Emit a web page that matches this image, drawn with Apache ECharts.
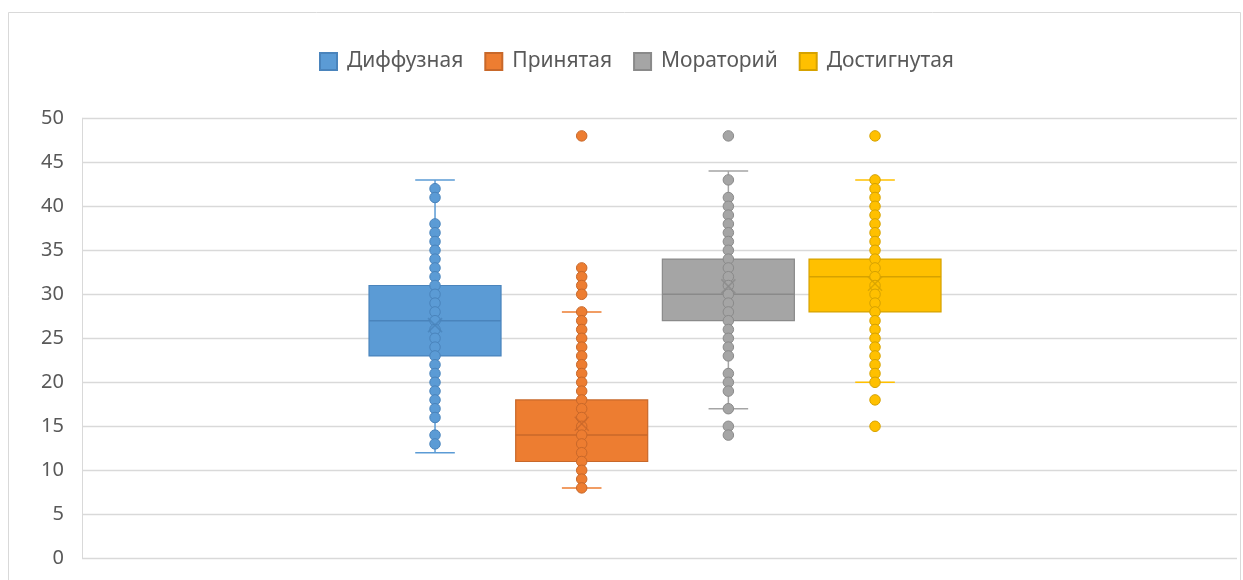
<!DOCTYPE html>
<html>
<head>
<meta charset="utf-8">
<script src="https://cdn.jsdelivr.net/npm/echarts@6/dist/echarts.min.js"></script>
<style>
html,body{margin:0;padding:0;background:#fff;}
#c{width:1243px;height:580px;}
</style>
</head>
<body>
<div id="c"></div>
<script>
// ---- data ----
const categories = ['Диффузная', 'Принятая', 'Мораторий', 'Достигнутая'];
const boxMin    = [12, 8, 17, 20];
const boxQ1     = [23, 11, 27, 28];
const boxMedian = [27, 14, 30, 32];
const boxQ3     = [31, 18, 34, 34];
const boxMax    = [43, 28, 44, 43];
const boxMean   = [26.5, 15.3, 30.9, 31.2];

const diffusePoints = [42, 41, 38, 37, 36, 35, 34, 33, 32, 31, 30, 29, 28, 27, 26, 25, 24, 23, 22, 21, 20, 19, 18, 17, 16, 14, 13];
const acceptedPoints = [48, 33, 32, 31, 30, 28, 27, 26, 25, 24, 23, 22, 21, 20, 19, 18, 17, 16, 15, 14, 13, 12, 11, 10, 9, 8];
const moratoriumPoints = [48, 43, 41, 40, 39, 38, 37, 36, 35, 34, 33, 32, 31, 30, 29, 28, 27, 26, 25, 24, 23, 21, 20, 19, 17, 15, 14];
const achievedPoints = [48, 43, 42, 41, 40, 39, 38, 37, 36, 35, 34, 33, 32, 31, 30, 29, 28, 27, 26, 25, 24, 23, 22, 21, 20, 18, 15];
const pointSets = [diffusePoints, acceptedPoints, moratoriumPoints, achievedPoints];

const yTicks = {min: 0, max: 50, interval: 5};

// ---- styles ----
const fillColors = ['#5B9BD5', '#ED7D31', '#A5A5A5', '#FFC000'];
const darkColors = ['#4A84BC', '#C8682A', '#8A8A8A', '#D6A200'];

const chart = echarts.init(document.getElementById('c'), null, {renderer: 'canvas'});

const boxData = categories.map((c, i) => [i + 1, boxMin[i], boxQ1[i], boxMedian[i], boxQ3[i], boxMax[i]]);
const meanData = categories.map((c, i) => [i + 1, boxMean[i]]);

const BOX_W = 0.9;   // in category units
const CAP_W = 0.27;

function renderBox(params, api) {
  const i = params.dataIndex;
  const x = api.value(0);
  const pMin = api.coord([x, api.value(1)]);
  const pQ1 = api.coord([x, api.value(2)]);
  const pMed = api.coord([x, api.value(3)]);
  const pQ3 = api.coord([x, api.value(4)]);
  const pMax = api.coord([x, api.value(5)]);
  const unit = api.size([1, 0])[0];
  const hw = unit * BOX_W / 2;
  const cw = unit * CAP_W / 2;
  const cx = pMed[0];
  const fill = fillColors[i], dark = darkColors[i];
  return {
    type: 'group',
    children: [
      {type: 'line', shape: {x1: cx, y1: pMin[1], x2: cx, y2: pQ1[1]}, style: {stroke: fill, lineWidth: 1.5}},
      {type: 'line', shape: {x1: cx, y1: pQ3[1], x2: cx, y2: pMax[1]}, style: {stroke: fill, lineWidth: 1.5}},
      {type: 'line', shape: {x1: cx - cw, y1: pMin[1], x2: cx + cw, y2: pMin[1]}, style: {stroke: fill, lineWidth: 1.5}},
      {type: 'line', shape: {x1: cx - cw, y1: pMax[1], x2: cx + cw, y2: pMax[1]}, style: {stroke: fill, lineWidth: 1.5}},
      {type: 'rect', shape: {x: cx - hw, y: pQ3[1], width: hw * 2, height: pQ1[1] - pQ3[1]},
        style: {fill: fill, stroke: dark, lineWidth: 1.2}},
      {type: 'line', shape: {x1: cx - hw, y1: pMed[1], x2: cx + hw, y2: pMed[1]}, style: {stroke: dark, lineWidth: 1.5}}
    ]
  };
}

function renderMean(params, api) {
  const i = params.dataIndex;
  const p = api.coord([api.value(0), api.value(1)]);
  const s = 7;
  return {
    type: 'group',
    children: [
      {type: 'line', shape: {x1: p[0] - s, y1: p[1] - s, x2: p[0] + s, y2: p[1] + s}, style: {stroke: darkColors[i], lineWidth: 1.5, opacity: 0.8}},
      {type: 'line', shape: {x1: p[0] - s, y1: p[1] + s, x2: p[0] + s, y2: p[1] - s}, style: {stroke: darkColors[i], lineWidth: 1.5, opacity: 0.8}}
    ]
  };
}

const scatterSeries = categories.map((name, i) => ({
  name: name,
  type: 'scatter',
  z: 3,
  symbol: 'circle',
  symbolSize: 10.5,
  itemStyle: {color: fillColors[i], borderColor: darkColors[i], borderWidth: 1, opacity: 1},
  emphasis: {disabled: true},
  data: pointSets[i].map(v => [i + 1, v])
}));

const option = {
  backgroundColor: '#ffffff',
  animation: false,
  graphic: [{
    type: 'rect', z: -1,
    shape: {x: 8.5, y: 12.5, width: 1232, height: 600},
    style: {fill: 'none', stroke: '#D9D9D9', lineWidth: 1}
  }],
  legend: {
    data: categories,
    top: 51,
    left: 319,
    padding: 0,
    icon: 'rect',
    itemWidth: 17,
    itemHeight: 17,
    itemGap: 21,
    textStyle: {fontFamily: 'Noto Sans', fontSize: 21, color: '#595959', padding: [0, 0, 0, 5]}
  },
  grid: {left: 82, right: 6, top: 118.3, bottom: 21.7, containLabel: false},
  xAxis: {type: 'value', min: -1.407, max: 6.468, show: false},
  yAxis: {
    type: 'value', min: yTicks.min, max: yTicks.max, interval: yTicks.interval,
    axisLine: {show: true, onZero: false, lineStyle: {color: '#D9D9D9', width: 1}},
    axisTick: {show: false},
    splitLine: {lineStyle: {color: '#D9D9D9', width: 1.3}},
    axisLabel: {fontFamily: 'Noto Sans', fontSize: 20, color: '#595959', margin: 18}
  },
  series: [
    {name: 'box', type: 'custom', z: 2, renderItem: renderBox, data: boxData, encode: {x: 0, y: [1, 2, 3, 4, 5]}},
    ...scatterSeries,
    {name: 'mean', type: 'custom', z: 4, renderItem: renderMean, data: meanData, encode: {x: 0, y: 1}}
  ]
};
chart.setOption(option);
</script>
</body>
</html>
